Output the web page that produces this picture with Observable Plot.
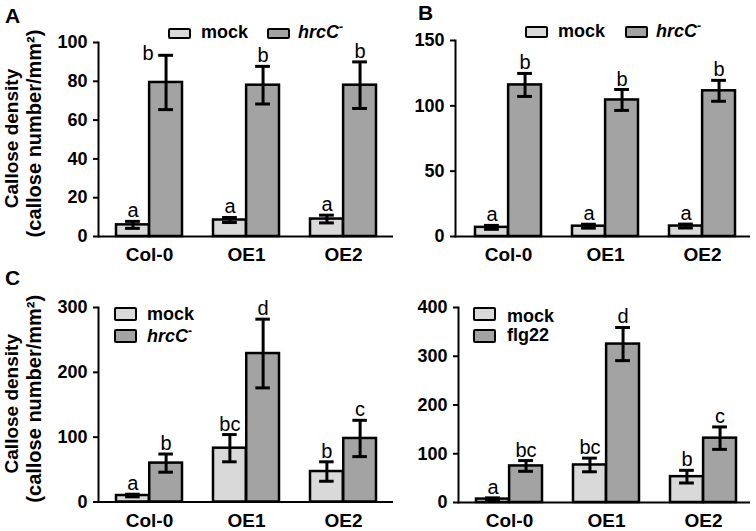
<!DOCTYPE html>
<html><head><meta charset="utf-8">
<script src="https://cdn.jsdelivr.net/npm/d3@7"></script>
<script src="https://cdn.jsdelivr.net/npm/@observablehq/plot@0.6"></script>
<style>
html,body{margin:0;padding:0;background:#fff;}
#root{position:relative;width:756px;height:531px;overflow:hidden;font-family:"Liberation Sans",Arial,sans-serif;color:#000;}
.panel{position:absolute;}
.plabel{position:absolute;font-weight:bold;font-size:21px;line-height:21px;}
.sw{position:absolute;box-sizing:border-box;border:2.5px solid #000;border-radius:2px;}
.lt{position:absolute;font-weight:bold;font-size:18px;line-height:18px;white-space:nowrap;}
.sup{font-size:12px;position:relative;top:-7px;font-style:normal;}
</style></head><body><div id="root"></div>
<script>
// ---------- data ----------
const groups = ["Col-0", "OE1", "OE2"];

const mockA = [6, 8.5, 9];        const mockAErr = [1.8, 1.3, 2];
const hrcA  = [79.4, 78, 78];     const hrcAErr  = [14, 9.7, 12];
const mockALetters = ["a", "a", "a"]; const hrcALetters = ["b", "b", "b"];

const mockB = [7, 7.9, 8];        const mockBErr = [1.5, 1.5, 1.5];
const hrcB  = [116, 104.5, 111.5];const hrcBErr  = [8.8, 8, 8];
const mockBLetters = ["a", "a", "a"]; const hrcBLetters = ["b", "b", "b"];

const mockC = [10, 83, 47];       const mockCErr = [2, 21, 15];
const hrcC  = [60, 229, 98];      const hrcCErr  = [14, 53, 28];
const mockCLetters = ["a", "bc", "b"]; const hrcCLetters = ["b", "d", "c"];

const mockD = [7, 77, 53];        const mockDErr = [2.5, 14, 13];
const flgD  = [75, 325, 132];     const flgDErr  = [11, 34, 23];
const mockDLetters = ["a", "bc", "b"]; const flgDLetters = ["bc", "d", "c"];

const ticksA = [0, 20, 40, 60, 80, 100];
const ticksB = [0, 50, 100, 150];
const ticksC = [0, 100, 200, 300];
const ticksD = [0, 100, 200, 300, 400];

const seriesNames = ["mock", "hrcC", "flg22"];
const yLabel1 = "Callose density";
const yLabel2 = "(callose number/mm²)";
const panelLetters = ["A", "B", "C"];

// ---------- styling ----------
const FILL_MOCK = "#d9d9d9";
const FILL_TRT = "#a3a3a3";

function rowsOf(values, errs, letters) {
  return groups.map((g, i) => ({group: g, value: values[i], err: errs[i], letter: letters[i]}));
}

const panels = [
  {left: 0, top: 0, width: 395, height: 265, mL: 98, mR: 2, mT: 42, mB: 29, xr: [115, 376],
   ymax: 100, ticks: ticksA, ylab: true,
   mock: rowsOf(mockA, mockAErr, mockALetters), trt: rowsOf(hrcA, hrcAErr, hrcALetters), special: "Col-0",
   legend: {trt: "hrcC", sw: [[168, 28], [267, 28]], tx: [[201, 22.5], [298, 22.5]], swh: 11}},
  {left: 395, top: 0, width: 361, height: 265, mL: 60, mR: 6, mT: 40, mB: 29, xr: [79, 340],
   ymax: 150, ticks: ticksB, ylab: false,
   mock: rowsOf(mockB, mockBErr, mockBLetters), trt: rowsOf(hrcB, hrcBErr, hrcBLetters),
   legend: {trt: "hrcC", sw: [[525, 26], [625, 26]], tx: [[558, 21.5], [656, 21.5]], swh: 12}},
  {left: 0, top: 265, width: 395, height: 266, mL: 98, mR: 2, mT: 42, mB: 29.5, xr: [115, 377],
   ymax: 300, ticks: ticksC, ylab: true,
   mock: rowsOf(mockC, mockCErr, mockCLetters), trt: rowsOf(hrcC, hrcCErr, hrcCLetters),
   legend: {trt: "hrcC", sw: [[114, 307], [114, 329]], tx: [[147, 305], [147, 327]], swh: 14}},
  {left: 395, top: 265, width: 361, height: 266, mL: 63, mR: 6, mT: 42, mB: 29, xr: [80, 341],
   ymax: 400, ticks: ticksD, ylab: false,
   mock: rowsOf(mockD, mockDErr, mockDLetters), trt: rowsOf(flgD, flgDErr, flgDLetters),
   legend: {trt: "flg22", sw: [[473, 307], [473, 329]], tx: [[507, 306.5], [507, 326]], swh: 14}}
];

const root = document.getElementById("root");
const PI = 0.32;

panels.forEach((p) => {
  const step = (p.xr[1] - p.xr[0]) / (groups.length - PI);
  const bw = step * (1 - PI);
  const half = bw / 2, q = bw / 4, cap = 7.5;
  const lo = (d) => d.value - d.err, hi = (d) => d.value + d.err;

  const errMarks = (data, side) => {
    const dx = side < 0 ? -q : q;
    const il = side < 0 ? q - cap : 3 * q - cap;
    const ir = side < 0 ? 3 * q - cap : q - cap;
    return [
      Plot.ruleX(data, {x: "group", y1: lo, y2: hi, dx, stroke: "#000", strokeWidth: 3}),
      Plot.tickY(data, {x: "group", y: lo, insetLeft: il, insetRight: ir, stroke: "#000", strokeWidth: 3}),
      Plot.tickY(data, {x: "group", y: hi, insetLeft: il, insetRight: ir, stroke: "#000", strokeWidth: 3})
    ];
  };

  const isSpecial = (d) => p.special && d.group === p.special;

  const marks = [
    Plot.barY(p.mock, {x: "group", y: "value", fill: FILL_MOCK, stroke: "#000", strokeWidth: 2.5, insetLeft: 0, insetRight: half}),
    Plot.barY(p.trt, {x: "group", y: "value", fill: FILL_TRT, stroke: "#000", strokeWidth: 2.5, insetLeft: half, insetRight: 0}),
    ...errMarks(p.mock, -1),
    ...errMarks(p.trt, 1),
    Plot.ruleY([0], {stroke: "#000", strokeWidth: 2}),
    Plot.frame({anchor: "left", stroke: "#000", strokeWidth: 2}),
    Plot.axisY({ticks: p.ticks, tickSize: 5, tickPadding: 6, fontSize: 18, fontWeight: "bold", strokeWidth: 2, label: null}),
    Plot.axisX({tickSize: 0, tickPadding: 11, fontSize: 19, fontWeight: "bold", label: null}),
    Plot.text(p.mock, {x: "group", y: hi, text: "letter", dx: -q, dy: -4, lineAnchor: "bottom", fontSize: 20}),
    Plot.text(p.trt, {filter: (d) => !isSpecial(d), x: "group", y: hi, text: "letter", dx: q, dy: -4, lineAnchor: "bottom", fontSize: 20}),
    Plot.text(p.trt, {filter: isSpecial, x: "group", y: hi, text: "letter", dx: q - 18, dy: 4.5, lineAnchor: "bottom", fontSize: 20})
  ];
  if (p.ylab) {
    marks.push(Plot.text([yLabel1], {frameAnchor: "left", textAnchor: "middle", rotate: -90, dx: -87, dy: -1, fontSize: 19, fontWeight: "bold"}));
    marks.push(Plot.text([yLabel2], {frameAnchor: "left", textAnchor: "middle", rotate: -90, dx: -64, dy: -6, fontSize: 20, fontWeight: "bold"}));
  }

  const chart = Plot.plot({
    width: p.width, height: p.height,
    marginLeft: p.mL, marginRight: p.mR, marginTop: p.mT, marginBottom: p.mB,
    x: {type: "band", domain: groups, range: p.xr, paddingInner: PI, paddingOuter: 0},
    y: {domain: [0, p.ymax]},
    style: {fontFamily: "Liberation Sans, Arial, sans-serif", background: "transparent", overflow: "visible", color: "#000"},
    marks
  });
  chart.classList.add("panel");
  chart.style.left = p.left + "px";
  chart.style.top = p.top + "px";
  root.appendChild(chart);

  // legend
  const lg = p.legend;
  const fills = [FILL_MOCK, FILL_TRT];
  const names = [seriesNames[0], lg.trt];
  names.forEach((name, i) => {
    const sw = document.createElement("div");
    sw.className = "sw";
    sw.style.left = lg.sw[i][0] + "px";
    sw.style.top = lg.sw[i][1] + "px";
    sw.style.width = "23px";
    sw.style.height = lg.swh + "px";
    sw.style.background = fills[i];
    root.appendChild(sw);
    const t = document.createElement("div");
    t.className = "lt";
    t.style.left = lg.tx[i][0] + "px";
    t.style.top = lg.tx[i][1] + "px";
    if (name === "hrcC") {
      const it = document.createElement("i");
      it.textContent = name;
      const s = document.createElement("span");
      s.className = "sup";
      s.textContent = "-";
      t.appendChild(it);
      t.appendChild(s);
    } else {
      t.textContent = name;
    }
    root.appendChild(t);
  });
});

// panel letters
[[5, 5], [418, 2], [5, 267]].forEach((pos, i) => {
  const d = document.createElement("div");
  d.className = "plabel";
  d.style.left = pos[0] + "px";
  d.style.top = pos[1] + "px";
  d.textContent = panelLetters[i];
  root.appendChild(d);
});
</script>
</body></html>
